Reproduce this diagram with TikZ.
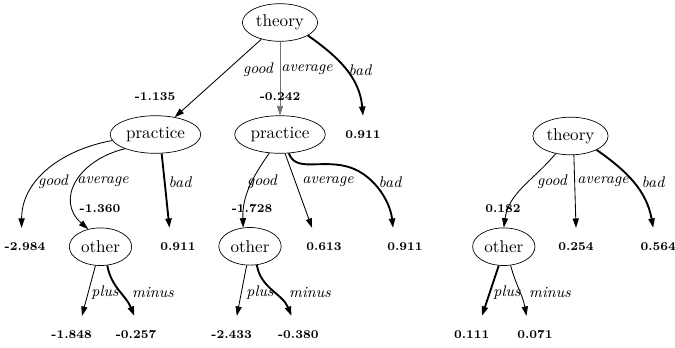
\documentclass[tikz,border=0pt]{standalone}
\usepackage{tikz}
\usetikzlibrary{arrows.meta,shapes.geometric}

\begin{document}
\begin{tikzpicture}[x=0.585pt,y=-0.585pt,
    var/.style={draw, ellipse, inner xsep=1.5pt, inner ysep=1pt, minimum height=22pt},
    leaf/.style={font=\scriptsize\bfseries, inner sep=0pt, minimum height=22pt},
    val/.style={font=\scriptsize\bfseries, inner sep=1pt},
    lbl/.style={font=\small\itshape, inner sep=1pt},
    edge/.style={line width=0.5pt, -{Triangle[length=5.5pt,width=3.6pt]}},
    heavy/.style={edge, line width=1.1pt},
    faint/.style={edge, draw=black!55, line width=0.4pt}]
  \useasboundingbox (0,0) rectangle (675,347);

  % ======= first tree (left) =======
  \node[var] (theoryA) at (280,22.5) {theory};
  \node[var] (practiceA) at (155.5,134.5) {practice};
  \node[var] (practiceB) at (280,134.5) {practice};
  \node[leaf] (badA) at (363,135) {0.911};

  \draw[edge] (theoryA) -- (practiceA);
  \draw[faint] (theoryA) -- (practiceB);
  \draw[heavy] (theoryA.-25) to[out=-35,in=95] (badA.north);

  \node[lbl] (goodAt) at (258,70) {good};
  \node[lbl] (avgAt) at (307,70) {average};
  \node[lbl] (badAt) at (360,70) {bad};
  \node[val] (valA) at (155,97) {-1.135};
  \node[val] (valB) at (280,97) {-0.242};

  % practice (left)
  \node[var] (otherA) at (100.5,246.7) {other};
  \node[leaf] (goodA) at (25,247) {-2.984};
  \node[leaf] (badB) at (178,247) {0.911};

  \draw[edge] (practiceA.188) to[out=190,in=90] ([xshift=-2]goodA.north);
  \draw[edge] (practiceA.205) .. controls (78,160) and (55,200) .. (otherA.125);
  \draw[heavy] (practiceA.-72) -- ([xshift=-5]badB.north);

  \node[lbl] (goodPa) at (53,182) {good};
  \node[lbl] (avgPa) at (103,182) {average};
  \node[lbl] (badPa) at (180,182) {bad};
  \node[val] (valC) at (100,209) {-1.360};

  % other (left)
  \node[leaf] (plusA) at (71.7,335) {-1.848};
  \node[leaf] (minusA) at (136,335) {-0.257};

  \draw[edge] (otherA.-105) -- ([xshift=6]plusA.north);
  \draw[heavy] (otherA.-70) to[out=-80,in=112] ([xshift=-1]minusA.north);

  \node[lbl] (plusAt) at (105,293) {plus};
  \node[lbl] (minusAt) at (153,293) {minus};

  % practice (middle)
  \node[var] (otherB) at (250,246.3) {other};
  \node[leaf] (avgB) at (324,247) {0.613};
  \node[leaf] (badC) at (405,247) {0.911};

  \draw[edge] (practiceB.-120) to[out=235,in=92] (otherB.110);
  \draw[edge] (practiceB.-75) -- ([xshift=-7]avgB.north);
  \draw[heavy] (practiceB.-65) .. controls (296,172) and (318,160) .. (345,166)
    .. controls (372,172) and (390,200) .. ([xshift=-7]badC.north);

  \node[lbl] (goodPb) at (262,182) {good};
  \node[lbl] (avgPb) at (328,182) {average};
  \node[lbl] (badPb) at (390,182) {bad};
  \node[val] (valD) at (252,209) {-1.728};

  % other (middle)
  \node[leaf] (plusB) at (231.7,335) {-2.433};
  \node[leaf] (minusB) at (298.3,335) {-0.380};

  \draw[edge] (otherB.-100) -- ([xshift=3]plusB.north);
  \draw[heavy] (otherB.-70) to[out=-80,in=112] ([xshift=-4]minusB.north);

  \node[lbl] (plusBt) at (260,293) {plus};
  \node[lbl] (minusBt) at (310,293) {minus};

  % ======= second tree (right) =======
  \node[var] (theoryB) at (570.5,136) {theory};
  \node[var] (otherC) at (503.8,246.7) {other};
  \node[leaf] (avgC) at (576,247) {0.254};
  \node[leaf] (badD) at (658.3,247) {0.564};

  \draw[edge] (theoryB.-130) to[out=230,in=82] (otherC.north);
  \draw[edge] (theoryB.-80) -- (avgC.north);
  \draw[heavy] (theoryB.-28) to[out=-35,in=100] ([xshift=-3]badD.north);

  \node[lbl] (goodTb) at (552,182) {good};
  \node[lbl] (avgTb) at (603,182) {average};
  \node[lbl] (badTb) at (653,182) {bad};
  \node[val] (valE) at (503,209) {0.182};

  \node[leaf] (plusC) at (471.7,335) {0.111};
  \node[leaf] (minusC) at (535,335) {0.071};

  \draw[heavy] (otherC.-105) -- ([xshift=6]plusC.north);
  \draw[edge] (otherC.-70) to[out=-75,in=100] ([xshift=-5]minusC.north);

  \node[lbl] (plusCt) at (507,293) {plus};
  \node[lbl] (minusCt) at (550,293) {minus};
\end{tikzpicture}
\end{document}
